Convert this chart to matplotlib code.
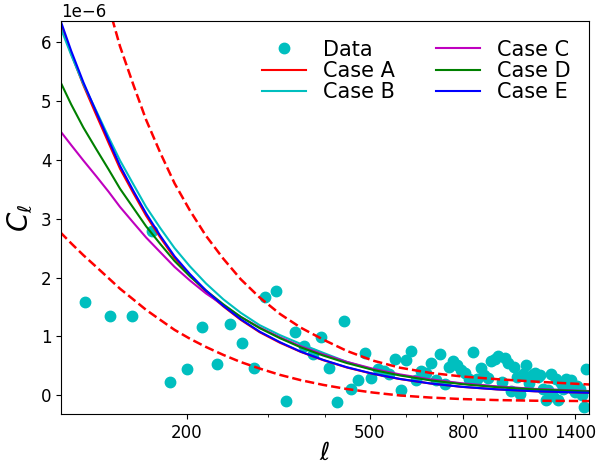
import numpy as np
import matplotlib.pyplot as plt
from matplotlib.ticker import NullFormatter

# binned data points (C_ell in units of 1e-6)
ell_data = [120, 136, 152, 168, 184, 200, 216, 232, 248, 264, 280, 296, 312, 328, 344,
            360, 376, 392, 408, 424, 440, 456, 472, 488, 504, 520, 536, 552, 568, 584,
            600, 616, 632, 648, 664, 680, 696, 712, 728, 744, 760, 776, 792, 808, 824,
            840, 856, 872, 888, 904, 920, 936, 952, 968, 984, 1000, 1016, 1032, 1048, 1064,
            1080, 1096, 1112, 1128, 1144, 1160, 1176, 1192, 1208, 1224, 1240, 1256, 1272, 1288, 1304,
            1320, 1336, 1352, 1368, 1384, 1400, 1416, 1432, 1448, 1464, 1480]
cl_data = [1.58, 1.34, 1.34, 2.79, 0.22, 0.44, 1.16, 0.53, 1.21, 0.88, 0.46, 1.67, 1.77, -0.10, 1.07,
           0.84, 0.70, 0.99, 0.46, -0.12, 1.26, 0.10, 0.26, 0.71, 0.30, 0.44, 0.41, 0.36, 0.61, 0.085,
           0.60, 0.75, 0.26, 0.41, 0.37, 0.54, 0.26, 0.70, 0.19, 0.48, 0.58, 0.51, 0.42, 0.38, 0.28,
           0.73, 0.28, 0.47, 0.35, 0.30, 0.58, 0.62, 0.67, 0.23, 0.64, 0.55, 0.07, 0.48, 0.31, 0.02,
           0.36, 0.51, 0.20, 0.35, 0.37, 0.31, 0.35, 0.10, -0.085, 0.085, 0.36, -0.02, 0.27, -0.085, 0.20,
           0.11, 0.27, 0.20, 0.26, 0.10, 0.06, 0.15, 0.10, 0.0, -0.20, 0.45]

# model curves (units of 1e-6)
ell_model = [106, 112, 119, 127, 135, 143, 153, 163, 175, 188, 203, 220, 240,
             262, 288, 319, 354, 396, 446, 508, 582, 677, 794, 947, 1145, 1510]
case_a = [6.33, 5.80, 5.27, 4.76, 4.29, 3.85, 3.43, 3.05, 2.68, 2.33, 2.04, 1.76, 1.51,
          1.28, 1.07, 0.89, 0.735, 0.595, 0.47, 0.362, 0.274, 0.199, 0.141, 0.098, 0.066, 0.041]
case_b = [6.26, 5.78, 5.29, 4.83, 4.39, 3.99, 3.58, 3.20, 2.84, 2.50, 2.19, 1.90, 1.63,
          1.40, 1.19, 1.02, 0.87, 0.72, 0.565, 0.437, 0.342, 0.262, 0.196, 0.145, 0.104, 0.068]
case_c = [4.49, 4.25, 3.99, 3.72, 3.46, 3.20, 2.93, 2.68, 2.43, 2.18, 1.95, 1.73, 1.53,
          1.33, 1.15, 0.983, 0.831, 0.694, 0.566, 0.450, 0.353, 0.270, 0.202, 0.149, 0.107, 0.070]
case_d = [5.33, 4.94, 4.55, 4.18, 3.84, 3.51, 3.18, 2.87, 2.57, 2.28, 2.02, 1.78, 1.545,
          1.33, 1.14, 0.968, 0.813, 0.674, 0.546, 0.431, 0.335, 0.253, 0.188, 0.136, 0.098, 0.063]
case_e = [6.38, 5.85, 5.32, 4.81, 4.34, 3.90, 3.47, 3.09, 2.71, 2.36, 2.06, 1.78, 1.52,
          1.29, 1.08, 0.90, 0.74, 0.60, 0.475, 0.365, 0.276, 0.20, 0.142, 0.099, 0.067, 0.041]
a_low = [2.77, 2.58, 2.38, 2.18, 1.99, 1.81, 1.625, 1.45, 1.28, 1.11, 0.96, 0.82, 0.685,
         0.563, 0.453, 0.345, 0.255, 0.175, 0.105, 0.045, -0.005, -0.04, -0.066, -0.083, -0.094, -0.10]
ell_up = [135, 143, 153, 163, 175, 188, 203, 220, 240,
          262, 288, 319, 354, 396, 446, 508, 582, 677, 794, 947, 1145, 1510]
a_up = [6.62, 5.93, 5.27, 4.68, 4.12, 3.60, 3.14, 2.71, 2.32,
        1.97, 1.66, 1.38, 1.147, 0.945, 0.752, 0.588, 0.467, 0.379, 0.318, 0.272, 0.231, 0.181]

xticks = [200, 500, 800, 1100, 1400]
scale = 1e-6

plt.rcParams['xtick.labelsize'] = 12
plt.rcParams['ytick.labelsize'] = 12

fig = plt.figure(figsize=(6.09, 4.63), dpi=100)
ax = fig.add_axes([0.1002, 0.1058, 0.8670, 0.8488])

ax.plot(ell_data, np.array(cl_data) * scale, 'o', color='c', ms=7.5, label='Data')
ax.plot(ell_model, np.array(case_a) * scale, 'r-', lw=1.5, label='Case A')
ax.plot(ell_up, np.array(a_up) * scale, 'r--', lw=1.8)
ax.plot(ell_model, np.array(a_low) * scale, 'r--', lw=1.8)
ax.plot(ell_model, np.array(case_b) * scale, 'c-', lw=1.5, label='Case B')
ax.plot(ell_model, np.array(case_c) * scale, 'm-', lw=1.5, label='Case C')
ax.plot(ell_model, np.array(case_d) * scale, 'g-', lw=1.5, label='Case D')
ax.plot(ell_model, np.array(case_e) * scale, 'b-', lw=1.5, label='Case E')

ax.set_xscale('log')
ax.set_xticks(xticks)
ax.set_xticklabels([str(t) for t in xticks])
ax.xaxis.set_minor_formatter(NullFormatter())
ax.set_xlim(106.4, 1501)
ax.set_ylim(-0.32e-6, 6.36e-6)

ax.set_xlabel(r'$\ell$', fontsize=18, labelpad=-1)
ax.set_ylabel(r'$C_\ell$', fontsize=20)
ax.legend(loc='upper right', ncol=2, frameon=False, fontsize=15,
          labelspacing=0.05, handlelength=2.1)

fig.savefig('out.png', dpi=100)
